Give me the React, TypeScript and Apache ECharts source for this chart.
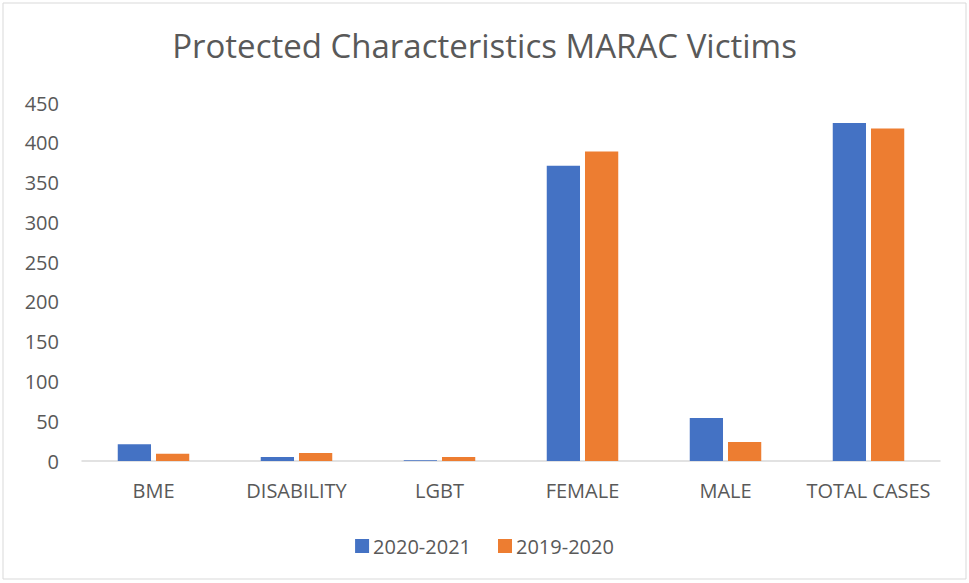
import React, { useEffect, useRef } from "react";
import * as echarts from "echarts";

const categories = ["BME", "DISABILITY", "LGBT", "FEMALE", "MALE", "TOTAL CASES"];
const series2020_2021 = [21, 5, 1, 371, 54, 425];
const series2019_2020 = [9, 10, 5, 389, 24, 418];
const seriesNames = ["2020-2021", "2019-2020"];
const title = "Protected Characteristics MARAC Victims";

export default function App() {
  const ref = useRef<HTMLDivElement>(null);
  useEffect(() => {
    if (!ref.current) return;
    const chart = echarts.init(ref.current, undefined, { renderer: "svg" });
    const font = "Open Sans";
    chart.setOption({
      animation: false,
      backgroundColor: "#ffffff",
      textStyle: { fontFamily: font },
      title: {
        text: title,
        left: "center",
        top: 24,
        textStyle: { fontFamily: font, fontSize: 33, fontWeight: "normal", color: "#595959" },
      },
      graphic: [
        {
          type: "rect",
          shape: { x: 3, y: 3, width: 963, height: 576 },
          style: { fill: "none", stroke: "#d9d9d9", lineWidth: 1 },
          silent: true,
        },
      ],
      legend: {
        data: seriesNames,
        bottom: 22,
        left: "center",
        itemWidth: 14,
        itemHeight: 14,
        itemGap: 27,
        icon: "rect",
        textStyle: { fontFamily: font, fontSize: 20, color: "#595959", padding: [0, 0, 0, -1] },
      },
      grid: { left: 82, right: 29, top: 103, bottom: 122 },
      xAxis: {
        type: "category",
        data: categories,
        axisLine: { lineStyle: { color: "#d9d9d9", width: 1.5 } },
        axisTick: { show: false },
        axisLabel: {
          fontFamily: font,
          fontSize: 20,
          color: "#595959",
          margin: 19,
          interval: 0,
          hideOverlap: false,
        },
      },
      yAxis: {
        type: "value",
        min: 0,
        max: 450,
        interval: 50,
        splitLine: { show: false },
        axisLine: { show: false },
        axisTick: { show: false },
        axisLabel: { fontFamily: font, fontSize: 20, color: "#595959", margin: 23 },
      },
      series: [
        {
          name: seriesNames[0],
          type: "bar",
          data: series2020_2021,
          itemStyle: { color: "#4472c4" },
          barGap: "15%",
          barCategoryGap: "50%",
        },
        {
          name: seriesNames[1],
          type: "bar",
          data: series2019_2020,
          itemStyle: { color: "#ed7d31" },
          barGap: "15%",
          barCategoryGap: "50%",
        },
      ],
    });
    return () => chart.dispose();
  }, []);
  return (
    <div
      ref={ref}
      style={{ position: "fixed", left: 0, top: 0, width: 969, height: 583 }}
    />
  );
}
